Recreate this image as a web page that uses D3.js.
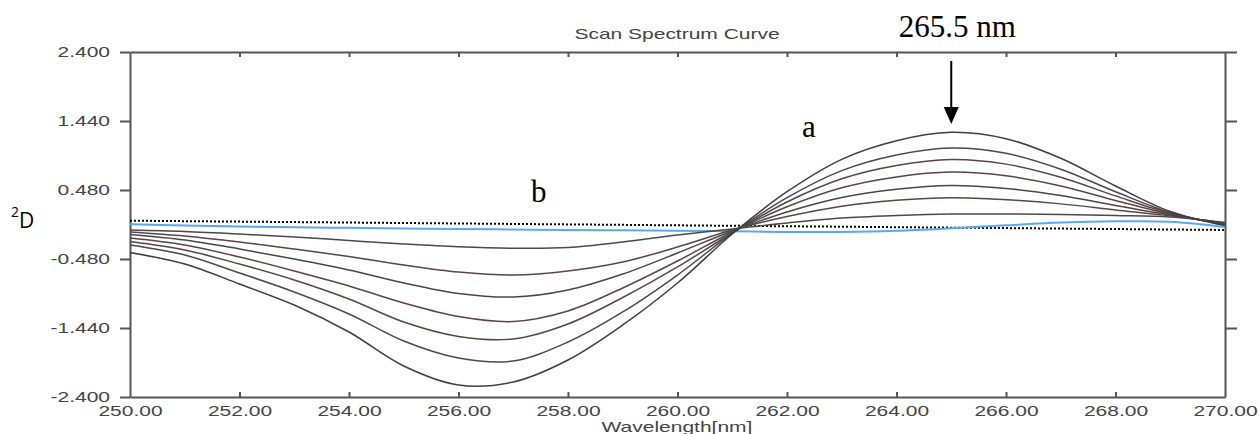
<!DOCTYPE html>
<html><head><meta charset="utf-8">
<script src="https://cdn.jsdelivr.net/npm/d3@7"></script>
<style>body{margin:0;background:#fff}svg{display:block}</style>
</head><body><svg id="c" width="1259" height="434"></svg>
<script>
// ---- data ----
const wavelengths = [250,251,252,253,254,255,256,257,258,259,260,261,262,263,264,265,266,267,268,269,270];
const curve1 = [-0.077,-0.097,-0.132,-0.174,-0.223,-0.271,-0.310,-0.330,-0.320,-0.243,-0.146,-0.063,0.021,0.090,0.125,0.146,0.146,0.139,0.125,0.104,0.028];
const curve2 = [-0.104,-0.160,-0.243,-0.341,-0.445,-0.563,-0.661,-0.703,-0.647,-0.522,-0.313,-0.077,0.111,0.255,0.337,0.373,0.345,0.287,0.203,0.120,0.021];
const curve3 = [-0.139,-0.216,-0.341,-0.480,-0.633,-0.814,-0.960,-1.009,-0.911,-0.689,-0.397,-0.090,0.175,0.376,0.491,0.543,0.502,0.405,0.264,0.131,0.014];
const curve4 = [-0.188,-0.285,-0.452,-0.647,-0.856,-1.092,-1.280,-1.350,-1.203,-0.883,-0.508,-0.104,0.246,0.511,0.662,0.730,0.678,0.536,0.334,0.143,0.007];
const curve5 = [-0.237,-0.355,-0.550,-0.772,-1.037,-1.357,-1.558,-1.593,-1.384,-1.016,-0.591,-0.118,0.313,0.636,0.821,0.904,0.840,0.658,0.398,0.156,0.000];
const curve6 = [-0.285,-0.424,-0.675,-0.939,-1.245,-1.621,-1.857,-1.899,-1.635,-1.217,-0.703,-0.125,0.373,0.750,0.967,1.064,0.991,0.769,0.456,0.166,-0.007];
const curve7 = [-0.390,-0.550,-0.828,-1.120,-1.496,-1.969,-2.233,-2.191,-1.885,-1.398,-0.814,-0.132,0.456,0.907,1.166,1.283,1.194,0.921,0.536,0.181,-0.014];
const blankCurve = [0.003,-0.014,-0.028,-0.038,-0.046,-0.054,-0.063,-0.070,-0.077,-0.081,-0.086,-0.093,-0.104,-0.104,-0.088,-0.053,-0.011,0.028,0.045,0.038,-0.035];
const refLineX = [250,270];
const refLineY = [0.053,-0.076];
const xTickValues = [250,252,254,256,258,260,262,264,266,268,270];
const xTickLabels = ["250.00","252.00","254.00","256.00","258.00","260.00","262.00","264.00","266.00","268.00","270.00"];
const yTickValues = [-2.4,-1.44,-0.48,0.48,1.44,2.4];
const yTickLabels = ["-2.400","-1.440","-0.480","0.480","1.440","2.400"];
const titleText = "Scan Spectrum Curve";
const xAxisTitle = "Wavelength[nm]";
const peakLabel = "265.5 nm";
const peakWavelength = 265.0;

// ---- drawing ----
const svg = d3.select("#c");
svg.append("rect").attr("width",1259).attr("height",434).attr("fill","#fff");
const L=130, R=1225, T=52, B=397;
const x = d3.scaleLinear().domain([250,270]).range([L,R]);
const y = d3.scaleLinear().domain([-2.4,2.4]).range([B,T]);
const axisColor = "#555";
const textColor = "#444";
const sx = 1.5;
const sansFont = "'Liberation Sans', Arial, sans-serif";

function styleAxis(g){
  g.selectAll("path.domain").attr("stroke",axisColor).attr("stroke-width",2);
  g.selectAll(".tick line").attr("stroke",axisColor).attr("stroke-width",2);
  g.selectAll("text").attr("fill",textColor).attr("font-family",sansFont).attr("font-size",14);
}

// left axis
const gl = svg.append("g").attr("transform",`translate(${L},0)`)
  .call(d3.axisLeft(y).tickValues(yTickValues).tickSizeInner(10).tickSizeOuter(0)
        .tickFormat((d,i)=>yTickLabels[i]));
styleAxis(gl);
gl.selectAll(".tick text").attr("x",-20/sx).attr("dy","0.35em").attr("transform",`scale(${sx},1)`);

// right axis
const gr = svg.append("g").attr("transform",`translate(${R},0)`)
  .call(d3.axisRight(y).tickValues(yTickValues.filter(v=>v>-2)).tickSizeInner(12).tickSizeOuter(0).tickFormat(""));
styleAxis(gr);

// bottom axis
const gb = svg.append("g").attr("transform",`translate(0,${B})`)
  .call(d3.axisBottom(x).tickValues(xTickValues).tickSizeInner(-5).tickSizeOuter(0)
        .tickFormat((d,i)=>xTickLabels[i]));
styleAxis(gb);
gb.selectAll(".tick text").attr("y",19.5).attr("dy",0).attr("transform",`scale(${sx},1)`);
gb.selectAll(".tick").filter(d=>d===250||d===270).select("line").remove();

// top axis
const gt = svg.append("g").attr("transform",`translate(0,${T})`)
  .call(d3.axisTop(x).tickValues(xTickValues.slice(1,-1)).tickSizeInner(-5).tickSizeOuter(0).tickFormat(""));
styleAxis(gt);

// reference dotted line
svg.append("line")
  .attr("x1",x(refLineX[0])).attr("y1",y(refLineY[0]))
  .attr("x2",x(refLineX[1])).attr("y2",y(refLineY[1]))
  .attr("stroke","#000").attr("stroke-width",2).attr("stroke-dasharray","2,2");

const line = d3.line().x((d,i)=>x(wavelengths[i])).y(d=>y(d)).curve(d3.curveCatmullRom.alpha(0.5));

// blank (blue) line
svg.append("path").attr("d",line(blankCurve)).attr("fill","none")
  .attr("stroke","#5aa8f2").attr("stroke-width",2);

const curves = [curve1,curve2,curve3,curve4,curve5,curve6,curve7];
const curveColors = ["#4a4a4a","#5e4444","#474747","#5e4444","#5a4545","#4a4a4a","#3f3f3f"];
curves.forEach((c,i)=>{
  svg.append("path").attr("d",line(c)).attr("fill","none")
    .attr("stroke",curveColors[i]).attr("stroke-width",1.5);
});

// titles
svg.append("g").attr("transform","translate(677,39)")
  .append("text").attr("transform",`scale(${sx},1)`).attr("text-anchor","middle")
  .attr("font-family",sansFont).attr("font-size",14).attr("fill",textColor).text(titleText);
svg.append("g").attr("transform","translate(677,432)")
  .append("text").attr("transform",`scale(${sx},1)`).attr("text-anchor","middle")
  .attr("font-family",sansFont).attr("font-size",14).attr("fill",textColor).text(xAxisTitle);

// y label ²D
const yl = svg.append("text").attr("x",11).attr("y",228).attr("font-family","'Open Sans', sans-serif").attr("fill","#000");
yl.append("tspan").attr("font-size",14).attr("dy",-11).text("2");
yl.append("tspan").attr("font-size",21).attr("dy",11).text("D");

// annotations
const serif = "'Liberation Serif', 'Times New Roman', serif";
svg.append("text").attr("x",x(peakWavelength)+6).attr("y",37).attr("text-anchor","middle")
  .attr("font-family",serif).attr("font-size",31).attr("fill","#000").text(peakLabel);
svg.append("text").attr("x",802).attr("y",137).attr("font-family",serif).attr("font-size",31).attr("fill","#000").text("a");
svg.append("text").attr("x",531).attr("y",202).attr("font-family",serif).attr("font-size",31).attr("fill","#000").text("b");

// arrow
const ax = x(peakWavelength);
svg.append("line").attr("x1",ax).attr("y1",61).attr("x2",ax).attr("y2",110)
  .attr("stroke","#000").attr("stroke-width",2);
svg.append("path").attr("d",`M${ax-7.5},107 L${ax+7.5},107 L${ax},124 Z`).attr("fill","#000");
</script></body></html>
